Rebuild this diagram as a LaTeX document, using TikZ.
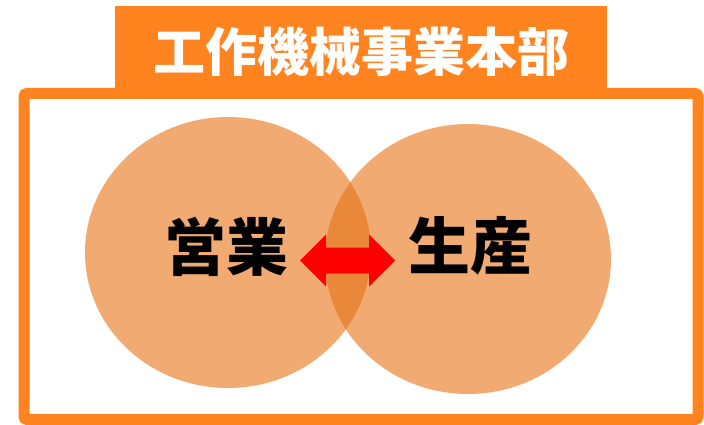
\documentclass[tikz,border=0pt]{standalone}
\usepackage{fontspec}
\newfontfamily\jp{Noto Sans CJK JP}
\definecolor{frameorange}{RGB}{255,131,30}
\definecolor{circorange}{RGB}{230,113,20}
\definecolor{arrowred}{RGB}{255,0,0}
\tikzset{
  circ/.style={ellipse, fill=circorange, fill opacity=0.6, inner sep=0pt},
  lbl/.style={font=\jp\bfseries\fontsize{62}{62}\selectfont, text=black, inner sep=0pt},
  ttl/.style={font=\jp\bfseries\fontsize{52}{52}\selectfont, text=white, inner sep=0pt},
}
\usetikzlibrary{shapes.geometric}
\begin{document}
\begin{tikzpicture}[x=1pt,y=-1pt]
\useasboundingbox (0,0) rectangle (704,425);
% frame
\draw[frameorange, line width=11pt, rounded corners=3pt] (24,93.5) rectangle (698,419.5);
% tab
\fill[frameorange] (115,6) rectangle (607,93);
\node[ttl] (title) at (361,52) {工作機械事業本部};
% circles
\node[circ, minimum width=286pt, minimum height=271pt] (left) at (228,252.5) {};
\node[circ, minimum width=286pt, minimum height=270pt] (right) at (468,259) {};
% labels
\node[lbl] (sales) at (226,247) {営業};
\node[lbl] (prod) at (470,246) {生産};
% arrow
\coordinate (ac) at (347.5,260.5);
\fill[arrowred] ([xshift=-47.5pt]ac) -- ++(26,-26) -- ++(0,13) -- ++(43,0) -- ++(0,-13) -- ++(26,26) -- ++(-26,26) -- ++(0,-13) -- ++(-43,0) -- ++(0,13) -- cycle;
\end{tikzpicture}
\end{document}
